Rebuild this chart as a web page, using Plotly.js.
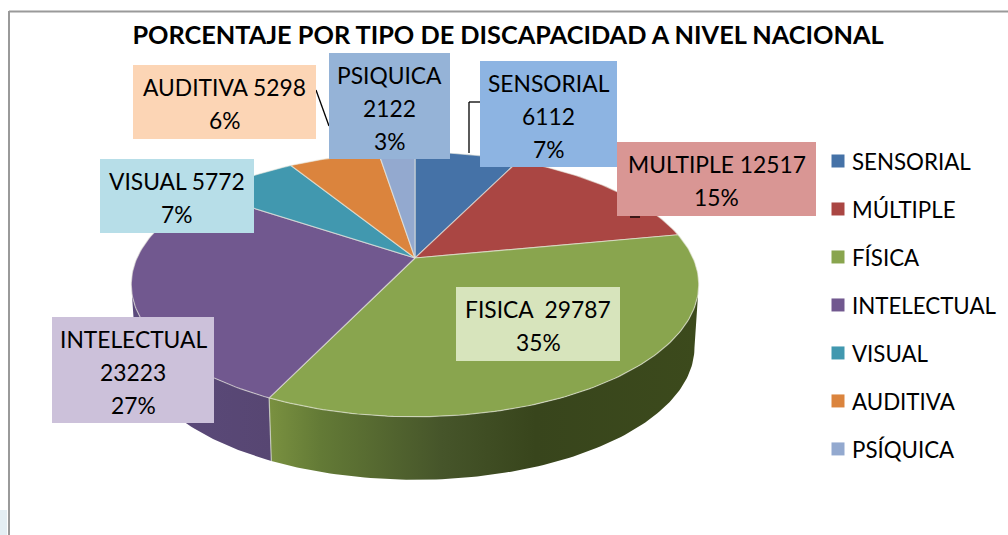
<!DOCTYPE html>
<html>
<head>
<meta charset="utf-8">
<script src="https://cdn.plot.ly/plotly-3.0.1.min.js"></script>
<style>html,body{margin:0;padding:0;background:#fff}#chart{width:1008px;height:535px}</style>
</head>
<body>
<div id="chart"></div>
<script>
// ---- data ----
const categories = ["SENSORIAL","MÚLTIPLE","FÍSICA","INTELECTUAL","VISUAL","AUDITIVA","PSÍQUICA"];
const values = [6112,12517,29787,23223,5772,5298,2122];
const titleText = "PORCENTAJE POR TIPO DE DISCAPACIDAD A NIVEL NACIONAL";
const labelLines = [
  ["SENSORIAL","6112","7%"],
  ["MULTIPLE 12517","15%"],
  ["FISICA  29787","35%"],
  ["INTELECTUAL","23223","27%"],
  ["VISUAL 5772","7%"],
  ["AUDITIVA 5298","6%"],
  ["PSIQUICA","2122","3%"]
];
// ---- styles and layout ----
const sliceColors = ["#4572A7","#AA4643","#89A54E","#71588F","#4198AF","#DB843D","#93A9CF"];
const boxColors = ["#8DB4E2","#D99694","#D7E4BC","#CCC1DA","#B7DEE8","#FCD5B5","#95B3D7"];
const boxes = [[480,61,617,167],[617,142,816,216],[456,287,620,361],[52,317,214,423],[100,159,254,233],[133,65,316,139],[329,53,450,159]];
const FONT = "Lato, Carlito, Calibri, sans-serif";
const LABEL_SIZE = 22.8, TITLE_SIZE = 25.3, LEGEND_SIZE = 22.3;
// projection of the tilted disc onto the page
const cx = 415, cy = 258, R = 278, S = 127, K = 0.2, DEPTH = 63, SHRINK = 0.985;
function project(deg){
  const a = deg*Math.PI/180, X = Math.sin(a), Y = -Math.cos(a), w = 1 - K*Y;
  return [cx + R*X/w, cy + S*Y/w];
}
function arc(a0,a1){
  const pts = [], n = Math.max(2,Math.ceil(Math.abs(a1-a0)));
  for(let i=0;i<=n;i++) pts.push(project(a0+(a1-a0)*i/n));
  return pts;
}
const total = values.reduce((a,b)=>a+b,0);
let cum = 0;
const angles = values.map(v=>{const s=cum/total*360; cum+=v; return [s,cum/total*360];});

const traces = [];
// front wall: visible between the two silhouette angles
const silR = 180*Math.acos(-K)/Math.PI, silL = 360 - silR;
const wallDefs = [
  {i:2, stops:[[0,"#7A9140"],[0.12,"#637A36"],[0.4,"#46552A"],[0.62,"#38451C"],[1,"#3C4A1C"]]},
  {i:3, stops:[[0,"#5B4A7C"],[1,"#574672"]]}
];
wallDefs.forEach(d=>{
  const a0 = Math.max(angles[d.i][0],silR), a1 = Math.min(angles[d.i][1],silL);
  const top = arc(a0,a1);
  const low = top.slice().reverse().map(p=>[cx+(p[0]-cx)*SHRINK,p[1]+DEPTH]);
  const pts = top.concat(low); pts.push(top[0]);
  traces.push({type:"scatter",mode:"lines",x:pts.map(p=>p[0]),y:pts.map(p=>p[1]),
    fill:"toself",showlegend:false,hoverinfo:"skip",
    line:{width:0},
    fillcolor:d.stops[0][1],
    fillgradient:{type:"horizontal",colorscale:d.stops,start:Math.min(...pts.map(p=>p[0])),stop:Math.max(...pts.map(p=>p[0]))}});
});
// light seam on the wall where two front slices meet
const seamTop = project(angles[2][1]);
const seamLow = [cx+(seamTop[0]-cx)*SHRINK,seamTop[1]+DEPTH];
traces.push({type:"scatter",mode:"lines",x:[seamTop[0],seamLow[0]],y:[seamTop[1],seamLow[1]],
  showlegend:false,hoverinfo:"skip",line:{color:"rgba(215,220,205,0.75)",width:1.2}});
// top surface of every slice
values.forEach((v,i)=>{
  const pts = [[cx,cy]].concat(arc(angles[i][0],angles[i][1]),[[cx,cy]]);
  traces.push({type:"scatter",mode:"lines",x:pts.map(p=>p[0]),y:pts.map(p=>p[1]),
    fill:"toself",fillcolor:sliceColors[i],showlegend:false,name:categories[i],
    text:categories[i]+": "+v,hoverinfo:"text",
    line:{color:"rgba(235,235,225,0.6)",width:1.2}});
});
// legend entries
categories.forEach((c,i)=>{
  traces.push({type:"scatter",mode:"markers",x:[null],y:[null],name:c,legendgroup:c,
    marker:{symbol:"square",size:13,color:sliceColors[i]},hoverinfo:"skip"});
});

const shapes = [
  {type:"line",x0:9,x1:9,y0:11,y1:535,line:{color:"#9A9A9A",width:2}},
  {type:"line",x0:9,x1:1008,y0:11.5,y1:11.5,line:{color:"#9A9A9A",width:2}},
  {type:"rect",x0:0,x1:7,y0:510,y1:535,fillcolor:"#E4EEF3",line:{width:0},layer:"below"},
  // leader lines
  {type:"line",x0:469,x1:469,y0:102,y1:153,line:{color:"#000",width:1.3}},
  {type:"line",x0:469,x1:480,y0:102,y1:102,line:{color:"#000",width:1.3}},
  {type:"line",x0:316,x1:329,y0:90,y1:126,line:{color:"#000",width:1.3}},
  {type:"line",x0:630,x1:640,y0:217,y1:217,line:{color:"#000",width:1.3}}
];
const annotations = [];
boxes.forEach((b,i)=>{
  shapes.push({type:"rect",x0:b[0],y0:b[1],x1:b[2],y1:b[3],fillcolor:boxColors[i],line:{width:0}});
  labelLines[i].forEach((t,j)=>{
    annotations.push({x:(b[0]+b[2])/2,y:b[1]+22+33*j,xref:"x",yref:"y",text:t,showarrow:false,
      xanchor:"center",yanchor:"middle",font:{family:FONT,size:LABEL_SIZE,color:"#000"}});
  });
});

const layout = {
  width:1008,height:535,autosize:false,
  margin:{l:0,r:0,t:0,b:0},
  paper_bgcolor:"#fff",plot_bgcolor:"#fff",
  title:{text:"<b>"+titleText+"</b>",x:508/1008,y:1-35.5/535,xref:"paper",yref:"paper",xanchor:"center",yanchor:"middle",
    font:{family:FONT,size:TITLE_SIZE,color:"#000"}},
  xaxis:{range:[0,1008],visible:false,fixedrange:true},
  yaxis:{range:[535,0],visible:false,fixedrange:true},
  showlegend:true,
  legend:{x:812/1008,y:1-140/535,xanchor:"left",yanchor:"top",tracegroupgap:16,
    bgcolor:"rgba(0,0,0,0)",font:{family:FONT,size:LEGEND_SIZE,color:"#000"}},
  shapes:shapes,annotations:annotations
};
Plotly.newPlot("chart",traces,layout,{displayModeBar:false,staticPlot:false}).then(gd=>{
  // bring swatches closer to their text, as in the reference
  gd.querySelectorAll(".legend .legendpoints path").forEach(p=>{
    p.setAttribute("transform","translate(26,0)");
  });
});
</script>
</body>
</html>
